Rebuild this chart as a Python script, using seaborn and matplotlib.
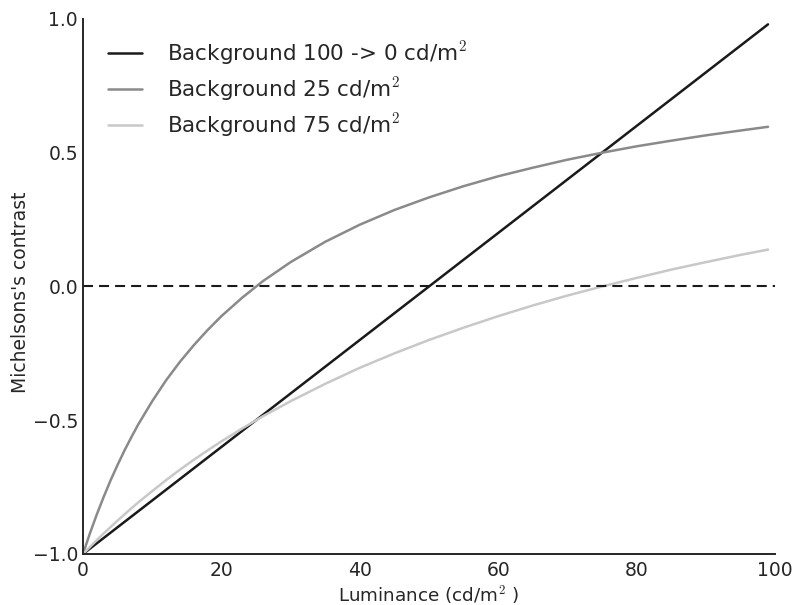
import matplotlib
matplotlib.use("Agg")
import matplotlib.pyplot as plt
import seaborn as sns
import pandas as pd

luminance = [0, 1, 2, 3, 4, 5, 6, 7, 8, 10, 12, 14, 16, 18, 20, 23, 26, 30, 35,
             40, 45, 50, 55, 60, 65, 70, 75, 80, 85, 90, 95, 99]
bg_100_to_0 = [-1.0, -0.98, -0.96, -0.94, -0.92, -0.90, -0.88, -0.86, -0.84, -0.80,
               -0.76, -0.72, -0.68, -0.64, -0.60, -0.54, -0.48, -0.40, -0.30, -0.20,
               -0.10, 0.0, 0.10, 0.20, 0.30, 0.40, 0.50, 0.60, 0.70, 0.80, 0.90, 0.98]
bg_25 = [-1.0, -0.923, -0.852, -0.786, -0.724, -0.667, -0.613, -0.563, -0.515, -0.429,
         -0.351, -0.282, -0.220, -0.163, -0.111, -0.042, 0.020, 0.091, 0.167, 0.231,
         0.286, 0.333, 0.375, 0.412, 0.444, 0.474, 0.500, 0.524, 0.545, 0.565, 0.583, 0.597]
bg_75 = [-1.0, -0.974, -0.948, -0.923, -0.899, -0.875, -0.852, -0.829, -0.807, -0.765,
         -0.724, -0.685, -0.648, -0.613, -0.579, -0.531, -0.485, -0.429, -0.364, -0.304,
         -0.250, -0.200, -0.154, -0.111, -0.071, -0.034, 0.0, 0.032, 0.063, 0.091, 0.118, 0.138]
series_labels = ["Background 100 -> 0 cd/m$^2$", "Background 25 cd/m$^2$",
                 "Background 75 cd/m$^2$"]
zero_x = [0, 100]
zero_y = [0, 0]
x_ticks = [0, 20, 40, 60, 80, 100]
y_ticks = [-1.0, -0.5, 0.0, 0.5, 1.0]
y_tick_labels = ["\u22121.0", "\u22120.5", "0.0", "0.5", "1.0"]

sns.set_theme(style="white")
plt.rcParams["font.family"] = ["DejaVu Sans"]
plt.rcParams["mathtext.fontset"] = "cm"

df = pd.concat([
    pd.DataFrame({"L": luminance, "C": vals, "series": lab})
    for vals, lab in zip([bg_100_to_0, bg_25, bg_75], series_labels)
])
palette = dict(zip(series_labels, ["#1a1a1a", "#8a8a8a", "#c8c8c8"]))

fig = plt.figure(figsize=(7.94, 6.05), dpi=100)
ax = fig.add_axes([0.1045, 0.0843, 0.8715, 0.8843])
sns.lineplot(data=df, x="L", y="C", hue="series", palette=palette, linewidth=1.8,
             ax=ax, sort=True)
ax.plot(zero_x, zero_y, color="#1a1a1a", linestyle=(0, (4.8, 2.9)), linewidth=1.5)

ax.set_xlim(0, 100)
ax.set_ylim(-1.0, 1.0)
ax.set_xticks(x_ticks)
ax.set_yticks(y_ticks)
ax.set_yticklabels(y_tick_labels)
ax.tick_params(axis="both", length=0, labelsize=13.5, colors="#262626")
ax.tick_params(axis="x", pad=5)
ax.tick_params(axis="y", pad=3.5)
ax.set_xlabel("Luminance (cd/m$^2$ )", fontsize=13.2, color="#262626")
ax.set_ylabel("Michelsons's contrast", fontsize=13.5, color="#262626")
ax.xaxis.set_label_coords(0.5, -0.054)
ax.yaxis.set_label_coords(-0.076, 0.49)
for s in ["top", "right"]:
    ax.spines[s].set_visible(False)
for s in ["left", "bottom"]:
    ax.spines[s].set_color("#262626")
    ax.spines[s].set_linewidth(1.4)

leg = ax.legend(loc="upper left", frameon=False, fontsize=15.5, handlelength=1.6,
                handletextpad=1.15, labelspacing=0.4, borderaxespad=0.0,
                bbox_to_anchor=(0.0237, 0.979))
for line in leg.get_lines():
    line.set_linewidth(1.8)
for t in leg.get_texts():
    t.set_color("#262626")

fig.savefig("out.png", dpi=100)
